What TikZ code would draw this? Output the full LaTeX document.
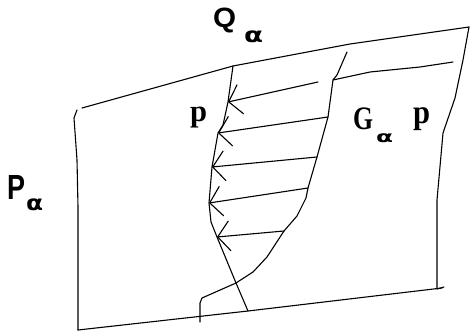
\documentclass[tikz,border=0pt]{standalone}
\usepackage{fontspec}
\usepackage{graphicx}
\setmainfont{Liberation Serif}
\newfontfamily\sansf{Liberation Sans}
\newfontfamily\alf{DejaVu Sans}
\usetikzlibrary{arrows.meta}
\tikzset{
  edge/.style={line width=1.1pt, line join=round, line cap=round},
  flow/.style={edge, -{Straight Barb[length=12pt,width=30pt,line width=1.1pt]}},
  glyph/.style={inner sep=0pt, outer sep=0pt, anchor=north west}
}
\newcommand{\gl}[3]{\resizebox*{#1}{#2}{#3}}
\begin{document}
\begin{tikzpicture}[x=1pt,y=-1pt]
\useasboundingbox (0,0) rectangle (471,334);
% frame corners
\coordinate (tl) at (82,108);
\coordinate (t1) at (233,66);
\coordinate (t2) at (350,44);
\coordinate (tr) at (469,27);
\coordinate (br) at (437,289);
\coordinate (bl) at (78,330);
\coordinate (bm) at (248,311);
% frame
\draw[edge] (tl) -- (t1) -- (t2) -- (tr);
\draw[edge] (77,110) -- (74,118) -- (77,160) -- (78,207) -- (bl);
\draw[edge] (tr) -- (463,60) -- (455,98) -- (443,133) -- (437,200) -- (br) -- (444,287);
\draw[edge] (bl) -- (bm) -- (442,288);
% inner line
\draw[edge] (333,80) -- (370,72) -- (420,67) -- (453,62);
% left curve points
\coordinate (a1) at (228,102);
\coordinate (a2) at (218,133);
\coordinate (a3) at (212,167);
\coordinate (a4) at (209,203);
\coordinate (a5) at (217,237);
\coordinate (x) at (236,283);
\draw[edge] (t1) -- (a1) -- (223,125) -- (a2) -- (a3) -- (a4) -- (211,222) -- (a5) -- (x) -- (bm);
% right curve points
\coordinate (b1) at (318,82);
\coordinate (b2) at (328,117);
\coordinate (b3) at (317,157);
\coordinate (b4) at (308,188);
\coordinate (b5) at (284,231);
\draw[edge] (347,52) -- (337,75) -- (333,80) -- (b2) -- (b3) -- (b4) -- (306,198) -- (297,216) -- (b5)
  -- (267,257) -- (253,272) -- (x) -- (202,298) -- (200,303) -- (200,322);
% arrows
\draw[flow] (b1) -- (a1);
\draw[flow] (b2) -- (a2);
\draw[flow] (b3) -- (a3);
\draw[flow] (b4) -- (a4);
\draw[flow] (b5) -- (a5);
% labels
\node[glyph] (Q) at (213,8) {\gl{23pt}{25pt}{\sansf\bfseries Q}};
\node[glyph] (Qa) at (244,31) {\gl{19pt}{12pt}{\alf\bfseries α}};
\node[glyph] (P) at (8,175) {\gl{18pt}{24pt}{\sansf\bfseries P}};
\node[glyph] (Pa) at (26,199) {\gl{17pt}{12pt}{\alf\bfseries α}};
\node[glyph] (G) at (353,108) {\gl{20pt}{22pt}{\bfseries G}};
\node[glyph] (Ga) at (376,134) {\gl{17pt}{9pt}{\alf\bfseries α}};
\node[glyph] (p2) at (413,108) {\gl{17pt}{23pt}{\bfseries p}};
\node[glyph] (p1) at (190,107) {\gl{17pt}{21pt}{\bfseries p}};
\end{tikzpicture}
\end{document}
